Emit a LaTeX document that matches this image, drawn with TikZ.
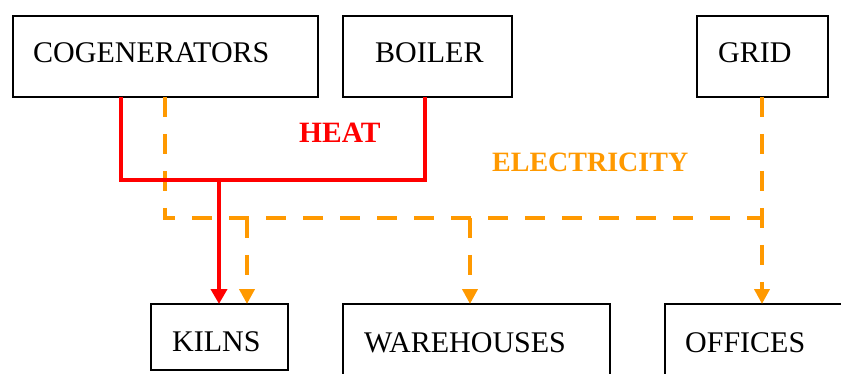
\documentclass[tikz,border=0pt]{standalone}
\usepackage{fontspec}
\setmainfont{Liberation Serif}
\usetikzlibrary{arrows.meta}
\definecolor{heatred}{RGB}{255,0,0}
\definecolor{elecorange}{RGB}{255,153,0}
\begin{document}
\begin{tikzpicture}[x=1pt,y=-1pt,
  box/.style={draw=black,line width=1.6pt,rectangle,inner sep=0pt,outer sep=0pt,anchor=north west},
  lbl/.style={anchor=base west,inner sep=0pt,font=\fontsize{30}{36}\selectfont},
  heat/.style={draw=heatred,line width=4pt},
  elec/.style={draw=elecorange,line width=4pt,dash pattern=on 20pt off 17pt},
  tipr/.style={-{Triangle[width=16pt,length=15pt]}},
  tipo/.style={-{Triangle[width=15pt,length=15pt]}},
]
\useasboundingbox (0,0) rectangle (841,374);
\clip (0,0) rectangle (841,374);
% boxes
\node[box,minimum width=305pt,minimum height=81pt] (cog) at (13,16) {};
\node[box,minimum width=169pt,minimum height=81pt] (boil) at (343,16) {};
\node[box,minimum width=131pt,minimum height=81pt] (grid) at (697,16) {};
\node[box,minimum width=137pt,minimum height=66pt] (kiln) at (151,304) {};
\node[box,minimum width=267pt,minimum height=90pt] (ware) at (343,304) {};
\node[box,minimum width=200pt,minimum height=90pt] (off) at (665,304) {};
% texts
\node[lbl] (cogt) at (33,63) {COGENERATORS};
\node[lbl] (boilt) at (375,63) {BOILER};
\node[lbl] (gridt) at (718,63) {GRID};
\node[lbl] (kilnt) at (172,351) {KILNS};
\node[lbl] (waret) at (364,352) {WAREHOUSES};
\node[lbl] (offt) at (685,352) {OFFICES};
\node[anchor=base west,inner sep=0pt,text=heatred,font=\fontsize{29.5}{36}\selectfont\bfseries] (heatl) at (299,143) {HEAT};
\node[anchor=base west,inner sep=0pt,text=elecorange,font=\fontsize{28}{34}\selectfont\bfseries] (elecl) at (492,172) {ELECTRICITY};
% junctions
\coordinate (hj1) at (121,180);
\coordinate (hj2) at (425,180);
\coordinate (hj3) at (219,180);
\coordinate (ej1) at (165,218);
\coordinate (ej2) at (762,218);
\coordinate (ej3) at (247,218);
\coordinate (ej4) at (470,218);
% electricity
\draw[elec] (cog.south -| ej1) -- (ej1) -- (ej2);
\draw[elec,tipo] (grid.south -| ej2) -- (off.north -| ej2);
\draw[elec,tipo] (ej3) -- (kiln.north -| ej3);
\draw[elec,tipo] (ej4) -- (ware.north -| ej4);
% heat
\draw[heat] (cog.south -| hj1) -- (hj1) -- (hj2) -- (boil.south -| hj2);
\draw[heat,tipr] (hj3) -- (kiln.north -| hj3);
\end{tikzpicture}
\end{document}
